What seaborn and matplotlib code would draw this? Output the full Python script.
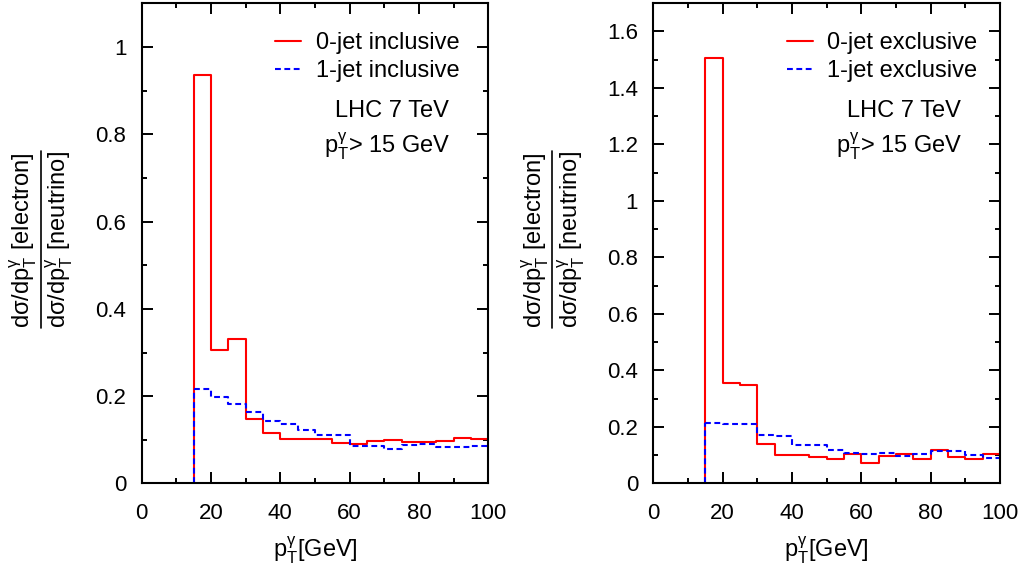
import numpy as np
import pandas as pd
import matplotlib
matplotlib.use("Agg")
import matplotlib.pyplot as plt
from matplotlib.lines import Line2D
from matplotlib.ticker import MultipleLocator, FuncFormatter
import seaborn as sns

# photon pT bins (GeV)
pt_edges = [15, 20, 25, 30, 35, 40, 45, 50, 55, 60, 65, 70, 75, 80, 85, 90, 95, 100]

# electron / neutrino ratio, inclusive
incl_0jet = [0.935, 0.305, 0.330, 0.148, 0.116, 0.102, 0.101, 0.101, 0.093,
             0.091, 0.097, 0.099, 0.094, 0.094, 0.098, 0.104, 0.101]
incl_1jet = [0.216, 0.197, 0.182, 0.164, 0.142, 0.136, 0.123, 0.111, 0.111,
             0.085, 0.085, 0.080, 0.089, 0.091, 0.084, 0.084, 0.085]

# electron / neutrino ratio, exclusive
excl_0jet = [1.505, 0.357, 0.347, 0.138, 0.100, 0.100, 0.094, 0.086, 0.104,
             0.071, 0.098, 0.106, 0.088, 0.118, 0.092, 0.085, 0.106]
excl_1jet = [0.215, 0.212, 0.210, 0.171, 0.168, 0.135, 0.135, 0.120, 0.109,
             0.106, 0.107, 0.097, 0.103, 0.115, 0.115, 0.100, 0.091]

left_yticks = [0, 0.2, 0.4, 0.6, 0.8, 1]
right_yticks = [0, 0.2, 0.4, 0.6, 0.8, 1, 1.2, 1.4, 1.6]
xticks = [0, 20, 40, 60, 80, 100]

RED = "#ff0000"
BLUE = "#0000ff"
DASH = (0, (2.8, 1.7))

sns.set_style("ticks")
plt.rcParams["font.family"] = ["Liberation Sans", "DejaVu Sans"]
plt.rcParams["mathtext.fontset"] = "custom"
plt.rcParams["mathtext.rm"] = "Liberation Sans"
plt.rcParams["mathtext.it"] = "Liberation Sans:italic"
plt.rcParams["mathtext.bf"] = "Liberation Sans:bold"
for key in ["text.color", "axes.labelcolor", "xtick.color", "ytick.color",
            "axes.edgecolor"]:
    plt.rcParams[key] = "black"

W, H = 1025, 567
PT = r"p$_{\rm T}^{\mathrm{\gamma}}$"


def make_df(values):
    edges = np.array(pt_edges, dtype=float)
    centers = 0.5 * (edges[:-1] + edges[1:])
    return pd.DataFrame({"pt": centers, "ratio": values})


def draw_hist(ax, values, color, ls, label):
    df = make_df(values)
    sns.histplot(data=df, x="pt", weights="ratio", bins=pt_edges,
                 element="step", fill=False, color=color, linewidth=1.5,
                 linestyle=ls, ax=ax)
    line = ax.lines[-1]
    line.set_label(label)
    # left edge of the histogram drops to zero
    ax.vlines(pt_edges[0], 0, values[0], color=color, linewidth=1.5,
              linestyle=ls)
    return line


def style_axes(ax, ymax, yticks):
    ax.set_xlim(0, 100)
    ax.set_ylim(0, ymax)
    ax.set_xticks(xticks)
    ax.set_yticks(yticks)
    ax.xaxis.set_minor_locator(MultipleLocator(10))
    ax.yaxis.set_minor_locator(MultipleLocator(0.1))
    ax.yaxis.set_major_formatter(FuncFormatter(lambda v, _: f"{v:g}"))
    ax.tick_params(which="both", direction="in", top=True, right=True,
                   width=1.4, color="black")
    ax.tick_params(which="major", length=7.9, labelsize=16)
    ax.tick_params(which="minor", length=3.6)
    ax.tick_params(axis="x", pad=14)
    ax.tick_params(axis="y", pad=11)
    for sp in ax.spines.values():
        sp.set_visible(True)
        sp.set_linewidth(1.5)
        sp.set_color("black")
    ax.set_xlabel(PT + "[GeV]", fontsize=17, labelpad=8)
    ax.set_ylabel("")


def panel(ax, v0, v1, kind, ymax, yticks):
    h0 = draw_hist(ax, v0, RED, "-", f"0-jet {kind}")
    h1 = draw_hist(ax, v1, BLUE, DASH, f"1-jet {kind}")
    style_axes(ax, ymax, yticks)
    ax.legend(handles=[h0, h1], loc="upper left", bbox_to_anchor=(0.385, 0.94),
              frameon=False, fontsize=17, handlelength=1.1, handletextpad=0.62,
              labelspacing=0.26, borderpad=0, borderaxespad=0)
    ax.text(0.722, 0.776, "LHC 7 TeV", transform=ax.transAxes, fontsize=17,
            ha="center", va="center")
    ax.text(0.709, 0.702, PT + "> 15 GeV", transform=ax.transAxes,
            fontsize=17, ha="center", va="center")


def fraction_label(fig, ax):
    x0 = ax.get_position().x0 * W
    yc = 0.577
    num = fig.text((x0 - 118) / W, yc, "dσ/d" + PT + " [electron]",
                   rotation=90, ha="center", va="center", fontsize=17)
    den = fig.text((x0 - 82) / W, yc, "dσ/d" + PT + " [neutrino]",
                   rotation=90, ha="center", va="center", fontsize=17)
    r = fig.canvas.get_renderer()
    b1 = num.get_window_extent(r)
    b2 = den.get_window_extent(r)
    ylo = min(b1.y0, b2.y0) / H
    yhi = max(b1.y1, b2.y1) / H
    xl = (x0 - 101) / W
    fig.add_artist(Line2D([xl, xl], [ylo, yhi], color="black", linewidth=1.2,
                          transform=fig.transFigure))


fig = plt.figure(figsize=(W / 100, H / 100), dpi=100)
ax1 = fig.add_axes([0.1382, 0.1473, 0.3382, 0.847])
ax2 = fig.add_axes([0.6374, 0.1473, 0.3382, 0.847])

panel(ax1, incl_0jet, incl_1jet, "inclusive", 1.1, left_yticks)
panel(ax2, excl_0jet, excl_1jet, "exclusive", 1.7, right_yticks)

fraction_label(fig, ax1)
fraction_label(fig, ax2)

fig.savefig("out.png", dpi=100)
plt.close(fig)
